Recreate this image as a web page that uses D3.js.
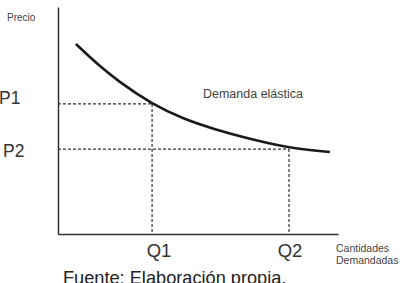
<!DOCTYPE html>
<html>
<head>
<meta charset="utf-8">
<script src="https://cdn.jsdelivr.net/npm/d3@7"></script>
<style>
  body { margin: 0; background: #fff; }
  svg { display: block; font-family: "Liberation Sans", Arial, sans-serif; }
</style>
</head>
<body>
<div id="chart"></div>
<script>
// Demand curve points (quantity, price) in chart units 0-100
const curveQ = [6.4, 15.0, 22.1, 33.6, 44.6, 57.1, 66.1, 82.1, 97.1];
const curveP = [83.7, 74.0, 67.0, 57.7, 51.1, 45.8, 42.7, 38.3, 36.1];

// Reference levels
const qLevels = [33.6, 82.5];
const pLevels = [57.3, 37.4];
const qLabels = ["Q1", "Q2"];
const pLabels = ["P1", "P2"];

const W = 404, H = 283;
const margin = { left: 58, right: 66, top: 7, bottom: 49 };

const svg = d3.select("#chart").append("svg")
    .attr("width", W)
    .attr("height", H);

const x = d3.scaleLinear().domain([0, 100]).range([margin.left, W - margin.right]);
const y = d3.scaleLinear().domain([0, 100]).range([H - margin.bottom, margin.top]);

// axes (plain lines, no ticks)
svg.append("g")
    .attr("transform", `translate(0,${y(0)})`)
    .call(d3.axisBottom(x).ticks(0).tickSizeOuter(0))
    .call(g => g.select(".domain").attr("stroke", "#333").attr("stroke-width", 1.5));

svg.append("g")
    .attr("transform", `translate(${x(0)},0)`)
    .call(d3.axisLeft(y).ticks(0).tickSizeOuter(0))
    .call(g => g.select(".domain").attr("stroke", "#333").attr("stroke-width", 1.5));

// dashed guides
pLevels.forEach((p, i) => {
    svg.append("line")
        .attr("x1", x(0)).attr("x2", x(qLevels[i]))
        .attr("y1", y(p)).attr("y2", y(p))
        .attr("stroke", "#333").attr("stroke-width", 1.2)
        .attr("stroke-dasharray", "3,2");
    svg.append("line")
        .attr("x1", x(qLevels[i])).attr("x2", x(qLevels[i]))
        .attr("y1", y(p)).attr("y2", y(0))
        .attr("stroke", "#333").attr("stroke-width", 1.2)
        .attr("stroke-dasharray", "3,2");
});

// demand curve
const pts = curveQ.map((q, i) => [q, curveP[i]]);
svg.append("path")
    .datum(pts)
    .attr("d", d3.line().x(d => x(d[0])).y(d => y(d[1])).curve(d3.curveMonotoneX))
    .attr("fill", "none")
    .attr("stroke", "#1a1a1a")
    .attr("stroke-width", 2.6);

// labels
svg.append("text")
    .attr("x", 7).attr("y", 21)
    .attr("fill", "#444")
    .style("font-size", "10px")
    .text("Precio");

pLabels.forEach((t, i) => {
    svg.append("text")
        .attr("x", i === 0 ? -1 : 3)
        .attr("y", i === 0 ? 104 : 157)
        .attr("fill", "#333")
        .style("font-size", "17.5px")
        .text(t);
});

qLabels.forEach((t, i) => {
    svg.append("text")
        .attr("x", x(qLevels[i]) + (i === 0 ? 7 : 1))
        .attr("y", 257)
        .attr("text-anchor", "middle")
        .attr("fill", "#333")
        .style("font-size", "18.5px")
        .text(t);
});

svg.append("text")
    .attr("x", 253).attr("y", 98)
    .attr("text-anchor", "middle")
    .attr("fill", "#444")
    .style("font-size", "12.5px")
    .text("Demanda elástica");

svg.append("text")
    .attr("x", 336).attr("y", 252)
    .attr("fill", "#444")
    .style("font-size", "10.5px")
    .text("Cantidades");

svg.append("text")
    .attr("x", 336).attr("y", 264)
    .attr("fill", "#444")
    .style("font-size", "10.5px")
    .text("Demandadas");

svg.append("text")
    .attr("x", 63).attr("y", 284)
    .attr("fill", "#222")
    .style("font-size", "18.2px")
    .text("Fuente: Elaboración propia.");
</script>
</body>
</html>
